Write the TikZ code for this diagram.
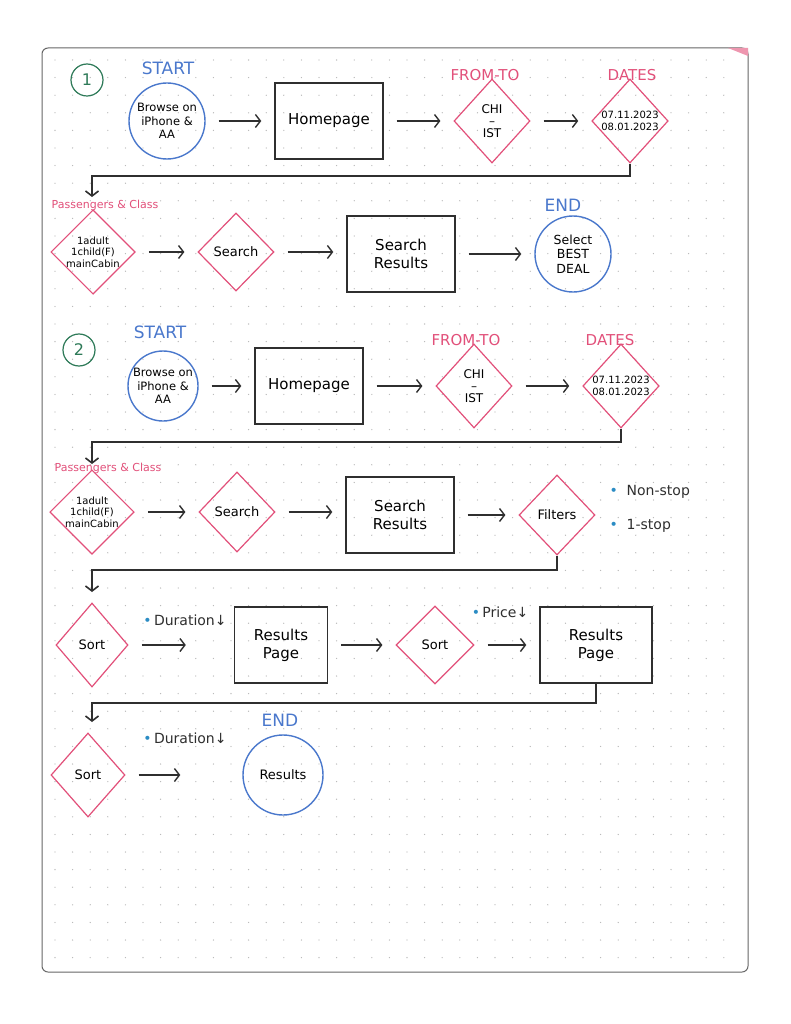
\documentclass[tikz,border=0pt]{standalone}
\usepackage{fontspec}
\setmainfont{DejaVu Sans}
\usepackage{xcolor}
\usepackage{tikz}
\usetikzlibrary{positioning,arrows.meta,shapes.geometric}
\definecolor{penBlack}{HTML}{2F2F2F}
\definecolor{penPink}{HTML}{E2507A}
\definecolor{penBlue}{HTML}{4A78CC}
\definecolor{penGreen}{HTML}{2E7A58}
\definecolor{dotGray}{HTML}{B4B4B4}
\definecolor{bulletBlue}{HTML}{2B8CC4}

\begin{document}
\begin{tikzpicture}[x=1pt, y=-1pt,
  stepbox/.style={draw=penBlack, line width=1.4pt, minimum width=108pt, minimum height=76pt, align=center, font=\fontsize{15}{18}\selectfont},
  choice/.style={draw=penPink, line width=1.2pt, diamond, minimum width=76pt, minimum height=84pt, inner sep=0pt, align=center, font=\fontsize{10}{11.5}\selectfont},
  terminal/.style={draw=penBlue, line width=1.4pt, circle, minimum size=76pt, inner sep=0pt, align=center, font=\fontsize{11.5}{13.5}\selectfont},
  seqnum/.style={draw=penGreen, text=penGreen, line width=1.2pt, circle, minimum size=32pt, inner sep=0pt, font=\fontsize{16}{18}\selectfont},
  bluelbl/.style={text=penBlue, font=\fontsize{17}{19}\selectfont},
  pinklbl/.style={text=penPink, font=\fontsize{15}{17}\selectfont},
  paxlbl/.style={text=penPink, font=\fontsize{11}{13}\selectfont},
  bulletlbl/.style={text=penBlack, font=\fontsize{14}{16}\selectfont},
  flow/.style={draw=penBlack, line width=1.4pt, -{Straight Barb[length=5pt,width=13pt]}, shorten <=13pt, shorten >=13pt},
  turn/.style={draw=penBlack, line width=1.6pt, -{Straight Barb[length=5pt,width=13pt]}}]

\useasboundingbox (0,0) rectangle (791,1024);
\fill[white] (0,0) rectangle (791,1024);
\draw[black!60, line width=1pt, fill=white, rounded corners=6pt] (42,48) rectangle (748,972);
\fill[penPink!60] (728,48) -- (748,48) -- (748,56) -- cycle;
\foreach \gx in {0,...,38} \foreach \gy in {0,...,51} \fill[dotGray] (55+\gx*17.6, 60+\gy*17.6) circle (0.65);

\node[seqnum] (num1) at (87,80) {1};
\node[bluelbl] (start1) at (168,68) {START};
\node[terminal] (browse1) at (167,121) {Browse on\\iPhone \&\\AA};
\node[stepbox] (home1) at (329,121) {Homepage};
\node[pinklbl] (route1lbl) at (485,75) {FROM-TO};
\node[choice, font=\fontsize{12}{12}\selectfont] (route1) at (492,121) {CHI\\–\\IST};
\node[pinklbl] (dates1lbl) at (632,75) {DATES};
\node[choice] (dates1) at (630,121) {07.11.2023\\08.01.2023};
\draw[flow] (browse1) -- (home1); \draw[flow] (home1) -- (route1); \draw[flow] (route1) -- (dates1);

\coordinate (turn1) at (92,176); \coordinate (drop1) at (92,197);
\draw[turn] (dates1.south) |- (turn1) -- (drop1);

\node[paxlbl] (pax1lbl) at (105,205) {Passengers \& Class};
\node[choice] (pax1) at (93,252) {1adult\\1child(F)\\mainCabin};
\node[choice, minimum height=78pt, font=\fontsize{13}{15}\selectfont] (search1) at (236,252) {Search};
\node[stepbox] (results1) at (401,254) {Search\\Results};
\node[bluelbl] (end1) at (563,205) {END};
\node[terminal, font=\fontsize{12.5}{14.5}\selectfont] (best1) at (573,254) {Select\\BEST\\DEAL};
\draw[flow] (pax1) -- (search1); \draw[flow] (search1) -- (search1 -| results1.west); \draw[flow] (results1) -- (best1);

\node[seqnum] (num2) at (79,350) {2};
\node[bluelbl] (start2) at (160,332) {START};
\node[terminal, minimum size=70pt] (browse2) at (163,386) {Browse on\\iPhone \&\\AA};
\node[stepbox] (home2) at (309,386) {Homepage};
\node[pinklbl] (route2lbl) at (466,340) {FROM-TO};
\node[choice, font=\fontsize{12}{12}\selectfont] (route2) at (474,386) {CHI\\–\\IST};
\node[pinklbl] (dates2lbl) at (610,340) {DATES};
\node[choice] (dates2) at (621,386) {07.11.2023\\08.01.2023};
\draw[flow] (browse2) -- (home2); \draw[flow] (home2) -- (route2); \draw[flow] (route2) -- (dates2);

\coordinate (turn2) at (92,442); \coordinate (drop2) at (92,464);
\draw[turn] (dates2.south) |- (turn2) -- (drop2);

\node[paxlbl] (pax2lbl) at (108,468) {Passengers \& Class};
\node[choice] (pax2) at (92,512) {1adult\\1child(F)\\mainCabin};
\node[choice, minimum height=80pt, font=\fontsize{13}{15}\selectfont] (search2) at (237,512) {Search};
\node[stepbox] (results2) at (400,515) {Search\\Results};
\node[choice, minimum height=80pt, font=\fontsize{13}{15}\selectfont] (filters) at (557,515) {Filters};
\node[bulletlbl, anchor=west] (nonstop) at (606,492) {{\color{bulletBlue}•}\ \ Non-stop};
\node[bulletlbl, anchor=west] (onestop) at (606,526) {{\color{bulletBlue}•}\ \ 1-stop};
\draw[flow] (pax2) -- (search2); \draw[flow] (search2) -- (search2 -| results2.west); \draw[flow] (results2) -- (filters);

\coordinate (turn3) at (92,570); \coordinate (drop3) at (92,592);
\draw[turn] (filters.south) |- (turn3) -- (drop3);

\node[choice, minimum width=72pt, font=\fontsize{13}{15}\selectfont] (sort1) at (92,645) {Sort};
\node[bulletlbl] (duration1) at (185,620) {{\color{bulletBlue}•}\,Duration↓};
\node[stepbox, minimum width=93pt] (page1) at (281,645) {Results\\Page};
\node[choice, minimum width=78pt, minimum height=78pt, font=\fontsize{13}{15}\selectfont] (sort2) at (435,645) {Sort};
\node[bulletlbl] (price) at (500,612) {{\color{bulletBlue}•}\,Price↓};
\node[stepbox, minimum width=112pt] (page2) at (596,645) {Results\\Page};
\draw[flow, shorten >=48pt] (sort1) -- (page1); \draw[flow] (page1) -- (sort2); \draw[flow] (sort2) -- (page2);

\coordinate (turn4) at (92,703); \coordinate (drop4) at (92,722);
\draw[turn] (page2.south) |- (turn4) -- (drop4);

\node[choice, minimum width=74pt, font=\fontsize{13}{15}\selectfont] (sort3) at (88,775) {Sort};
\node[bulletlbl] (duration2) at (185,738) {{\color{bulletBlue}•}\,Duration↓};
\node[bluelbl] (end2) at (280,720) {END};
\node[terminal, minimum size=80pt, font=\fontsize{13}{15}\selectfont] (final) at (283,775) {Results};
\draw[flow, shorten >=62pt] (sort3) -- (final);
\end{tikzpicture}
\end{document}
